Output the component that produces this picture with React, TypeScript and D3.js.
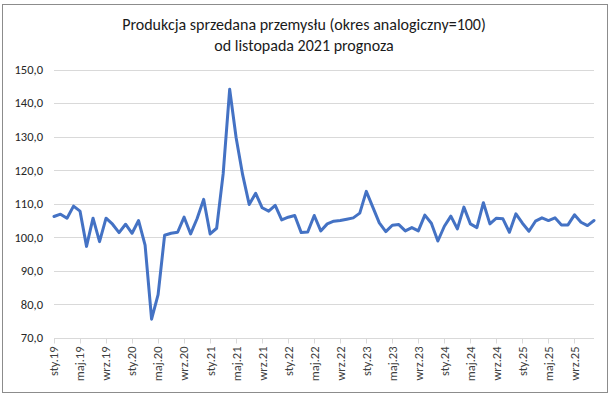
import { useEffect, useRef } from 'react';
import * as d3 from 'd3';

const MONTHS = ['sty', 'lut', 'mar', 'kwi', 'maj', 'cze', 'lip', 'sie', 'wrz', 'paź', 'lis', 'gru'];
const YEARS = ['19', '20', '21', '22', '23', '24', '25'];
const categories = YEARS.flatMap(y => MONTHS.map(m => `${m}.${y}`));

// y/y index, one value per month sty.19 .. gru.25
const values = [
  106.2, 106.9, 105.7, 109.3, 107.8, 97.3, 105.7, 98.7, 105.7, 103.9, 101.4, 103.9, // 2019
  101.2, 105.0, 97.7, 75.6, 82.9, 100.6, 101.2, 101.5, 106.0, 101.0, 105.6, 111.3, // 2020
  101.0, 102.7, 118.9, 144.1, 129.6, 118.6, 109.8, 113.1, 108.8, 107.8, 109.5, 105.2, // 2021
  106.0, 106.5, 101.4, 101.6, 106.5, 101.9, 104.0, 104.8, 105.0, 105.4, 105.8, 107.2, // 2022
  113.7, 109.0, 104.3, 101.7, 103.6, 103.8, 101.9, 102.9, 101.9, 106.6, 104.2, 98.9, // 2023
  103.3, 106.3, 102.5, 109.0, 104.0, 102.9, 110.3, 104.0, 105.7, 105.5, 101.5, 107.0, // 2024
  104.2, 101.8, 104.8, 105.8, 105.0, 105.8, 103.7, 103.7, 106.7, 104.5, 103.5, 105.0, // 2025
];

const yTicks = [70, 80, 90, 100, 110, 120, 130, 140, 150];
const titleLines = ['Produkcja sprzedana przemysłu (okres analogiczny=100)', 'od listopada 2021 prognoza'];

const FONT = 'Calibri, Carlito, Lato, sans-serif';

export default function App() {
  const svgRef = useRef<SVGSVGElement>(null);

  useEffect(() => {
    if (!svgRef.current) return;
    const W = 613, H = 399;
    const PAD = { t: 69.5, r: 19, b: 61, l: 54 };

    const svg = d3.select(svgRef.current);
    svg.selectAll('*').remove();

    // chart frame
    svg.append('rect')
      .attr('x', 2.5).attr('y', 4.5).attr('width', 605).attr('height', 388)
      .attr('fill', '#fff').attr('stroke', '#8c8c8c').attr('stroke-width', 1);

    // title
    titleLines.forEach((t, i) => {
      svg.append('text')
        .attr('x', 304).attr('y', 30 + i * 20.5)
        .attr('text-anchor', 'middle').attr('font-family', FONT).attr('font-size', 16)
        .attr('fill', '#1a1a1a').text(t);
    });

    const x = d3.scalePoint<string>().domain(categories).range([PAD.l, W - PAD.r]);
    const y = d3.scaleLinear().domain([70, 150]).range([H - PAD.b, PAD.t]);

    // grid + y labels
    yTicks.forEach(tick => {
      if (tick > 70) {
        svg.append('line')
          .attr('x1', PAD.l).attr('x2', W - PAD.r)
          .attr('y1', Math.round(y(tick)) + 0.5).attr('y2', Math.round(y(tick)) + 0.5)
          .attr('stroke', '#d9d9d9').attr('stroke-width', 1);
      }
      svg.append('text')
        .attr('x', 43).attr('y', y(tick)).attr('dy', '0.35em')
        .attr('text-anchor', 'end').attr('font-family', FONT).attr('font-size', 12.5)
        .attr('fill', '#262626').text(d3.format('.1f')(tick).replace('.', ','));
    });

    // x axis
    const axisY = Math.round(y(70)) + 0.5;
    svg.append('line')
      .attr('x1', PAD.l).attr('x2', W - PAD.r).attr('y1', axisY).attr('y2', axisY)
      .attr('stroke', '#d9d9d9').attr('stroke-width', 1);

    categories.forEach((c, i) => {
      if (i % 4 !== 0) return;
      const cx = Math.round(x(c)!) + 0.5;
      svg.append('line')
        .attr('x1', cx).attr('x2', cx).attr('y1', axisY).attr('y2', axisY + 5)
        .attr('stroke', '#d9d9d9').attr('stroke-width', 1);
      svg.append('text')
        .attr('transform', `translate(${x(c)},${axisY + 8}) rotate(-90)`)
        .attr('dy', '0.35em')
        .attr('text-anchor', 'end').attr('font-family', FONT).attr('font-size', 12.5)
        .attr('fill', '#404040').text(c);
    });

    // series
    const line = d3.line<number>()
      .x((_, i) => x(categories[i])!)
      .y(d => y(d));

    svg.append('path').datum(values)
      .attr('fill', 'none').attr('stroke', '#4472c4').attr('stroke-width', 3)
      .attr('stroke-linejoin', 'round').attr('stroke-linecap', 'round')
      .attr('d', line);
  }, []);

  return (
    <svg
      ref={svgRef}
      width={613}
      height={399}
      style={{ position: 'absolute', left: 0, top: 0, display: 'block' }}
    />
  );
}
